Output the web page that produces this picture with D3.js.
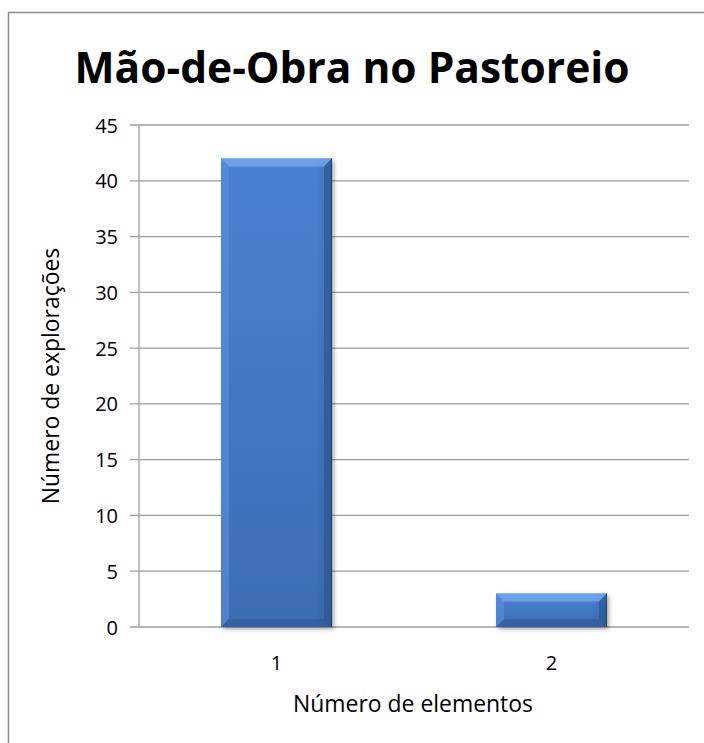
<!DOCTYPE html>
<html>
<head>
<meta charset="utf-8">
<script src="https://cdn.jsdelivr.net/npm/d3@7"></script>
<style>
  html, body { margin: 0; padding: 0; background: #fff; overflow: hidden; }
  svg { display: block; font-family: "Open Sans", "DejaVu Sans", sans-serif; }
</style>
</head>
<body>
<svg id="chart" width="704" height="743"></svg>
<script>
// Chart data
const categories = ["1", "2"];
const values = [42, 3];
const yTicks = [0, 5, 10, 15, 20, 25, 30, 35, 40, 45];
const title = "Mão-de-Obra no Pastoreio";
const xTitle = "Número de elementos";
const yTitle = "Número de explorações";

const svg = d3.select("#chart");
const plot = { left: 139, right: 689, top: 125, bottom: 627 };

// Shrink or grow a text element until it spans the given width
function fitWidth(sel, target) {
  const node = sel.node();
  const fs = parseFloat(sel.attr("font-size"));
  const w = node.getComputedTextLength();
  if (w > 0) sel.attr("font-size", (fs * target / w).toFixed(2));
}

// Outer chart frame
svg.append("rect")
  .attr("x", 8.5).attr("y", 12.5)
  .attr("width", 900).attr("height", 900)
  .attr("fill", "none").attr("stroke", "#8c8c8c").attr("stroke-width", 1.5);

const x = d3.scaleBand().domain(categories).range([plot.left, plot.right]).paddingInner(0.6).paddingOuter(0.3);
const y = d3.scaleLinear().domain([0, 45]).range([plot.bottom, plot.top]);

// Gridlines (with the tick stub left of the axis)
svg.append("g").selectAll("line").data(yTicks).join("line")
  .attr("x1", plot.left - 9).attr("x2", plot.right)
  .attr("y1", d => y(d)).attr("y2", d => y(d))
  .attr("stroke", "#9c9c9c").attr("stroke-width", 1.3);

// Vertical axis line
svg.append("line")
  .attr("x1", plot.left).attr("x2", plot.left)
  .attr("y1", y(45)).attr("y2", y(0))
  .attr("stroke", "#9c9c9c").attr("stroke-width", 1.3);

// Y tick labels
svg.append("g").selectAll("text").data(yTicks).join("text")
  .attr("x", 118).attr("y", d => y(d) + 7.5)
  .attr("text-anchor", "end")
  .attr("font-size", 20).attr("fill", "#000")
  .text(d => d);

// Gradients and shadow for the bevelled bars
const defs = svg.append("defs");
const gMain = defs.append("linearGradient").attr("id", "barMain").attr("x1", 0).attr("y1", 0).attr("x2", 0).attr("y2", 1);
gMain.append("stop").attr("offset", "0%").attr("stop-color", "#4a82d0");
gMain.append("stop").attr("offset", "100%").attr("stop-color", "#3d6db3");
const gSide = defs.append("linearGradient").attr("id", "barSide").attr("x1", 0).attr("y1", 0).attr("x2", 1).attr("y2", 0);
gSide.append("stop").attr("offset", "0%").attr("stop-color", "#000").attr("stop-opacity", 0.0);
gSide.append("stop").attr("offset", "85%").attr("stop-color", "#000").attr("stop-opacity", 0.0);
gSide.append("stop").attr("offset", "100%").attr("stop-color", "#000").attr("stop-opacity", 0.12);
const shadow = defs.append("filter").attr("id", "barShadow").attr("x", "-10%").attr("y", "-10%").attr("width", "130%").attr("height", "130%");
shadow.append("feDropShadow").attr("dx", 2).attr("dy", 2).attr("stdDeviation", 2)
  .attr("flood-color", "#000").attr("flood-opacity", 0.35);

const bw = 111;
const bev = 8;
const bars = svg.append("g").selectAll("g").data(categories.map((c, i) => ({ c, v: values[i] }))).join("g");

bars.each(function(d) {
  const g = d3.select(this);
  const cx = x(d.c) + x.bandwidth() / 2;
  const x0 = cx - bw / 2, x1 = cx + bw / 2;
  const y0 = y(d.v), y1 = y(0);
  const b = Math.min(bev, (y1 - y0) / 2);
  g.append("rect").attr("x", x0).attr("y", y0).attr("width", bw).attr("height", y1 - y0)
    .attr("fill", "url(#barMain)").attr("filter", "url(#barShadow)");
  g.append("rect").attr("x", x0).attr("y", y0).attr("width", bw).attr("height", y1 - y0)
    .attr("fill", "url(#barSide)");
  // top bevel
  g.append("path").attr("d", `M${x0},${y0}L${x1},${y0}L${x1 - b},${y0 + b}L${x0 + b},${y0 + b}Z`)
    .attr("fill", "#7aaaf0").attr("opacity", 0.75);
  // left bevel
  g.append("path").attr("d", `M${x0},${y0}L${x0 + b},${y0 + b}L${x0 + b},${y1 - b}L${x0},${y1}Z`)
    .attr("fill", "#5d90da").attr("opacity", 0.6);
  // right bevel
  g.append("path").attr("d", `M${x1},${y0}L${x1},${y1}L${x1 - b},${y1 - b}L${x1 - b},${y0 + b}Z`)
    .attr("fill", "#2c5594").attr("opacity", 0.65);
  // bottom bevel
  g.append("path").attr("d", `M${x0},${y1}L${x1},${y1}L${x1 - b},${y1 - b}L${x0 + b},${y1 - b}Z`)
    .attr("fill", "#2f5a98").attr("opacity", 0.6);
  // thin dark outline on right edge
  g.append("line").attr("x1", x1 - 0.5).attr("x2", x1 - 0.5).attr("y1", y0).attr("y2", y1)
    .attr("stroke", "#1f3f70").attr("stroke-width", 1);
});

// X tick labels
svg.append("g").selectAll("text").data(categories).join("text")
  .attr("x", d => x(d) + x.bandwidth() / 2).attr("y", 670)
  .attr("text-anchor", "middle")
  .attr("font-size", 20).attr("fill", "#000")
  .text(d => d);

// Axis titles
const xt = svg.append("text")
  .attr("x", 413).attr("y", 712)
  .attr("text-anchor", "middle").attr("font-size", 18).attr("fill", "#000")
  .text(xTitle);
fitWidth(xt, 240);

const yt = svg.append("text")
  .attr("transform", `translate(59,${(plot.top + plot.bottom) / 2}) rotate(-90)`)
  .attr("text-anchor", "middle").attr("font-size", xt.attr("font-size")).attr("fill", "#000")
  .text(yTitle);

// Title
const tt = svg.append("text")
  .attr("x", 352).attr("y", 83)
  .attr("text-anchor", "middle").attr("font-size", 36).attr("font-weight", "bold").attr("fill", "#000")
  .text(title);
fitWidth(tt, 555);
</script>
</body>
</html>
